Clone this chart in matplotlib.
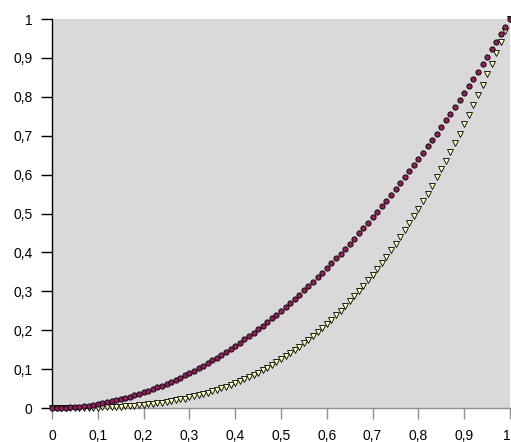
import matplotlib
matplotlib.use("Agg")
import matplotlib.pyplot as plt
from matplotlib.ticker import FuncFormatter
from matplotlib.transforms import ScaledTranslation

plt.rcParams['font.family'] = ['Liberation Sans', 'DejaVu Sans']

x = [0.00, 0.01, 0.02, 0.03, 0.04, 0.05, 0.06, 0.07, 0.08, 0.09,
     0.10, 0.11, 0.12, 0.13, 0.14, 0.15, 0.16, 0.17, 0.18, 0.19,
     0.20, 0.21, 0.22, 0.23, 0.24, 0.25, 0.26, 0.27, 0.28, 0.29,
     0.30, 0.31, 0.32, 0.33, 0.34, 0.35, 0.36, 0.37, 0.38, 0.39,
     0.40, 0.41, 0.42, 0.43, 0.44, 0.45, 0.46, 0.47, 0.48, 0.49,
     0.50, 0.51, 0.52, 0.53, 0.54, 0.55, 0.56, 0.57, 0.58, 0.59,
     0.60, 0.61, 0.62, 0.63, 0.64, 0.65, 0.66, 0.67, 0.68, 0.69,
     0.70, 0.71, 0.72, 0.73, 0.74, 0.75, 0.76, 0.77, 0.78, 0.79,
     0.80, 0.81, 0.82, 0.83, 0.84, 0.85, 0.86, 0.87, 0.88, 0.89,
     0.90, 0.91, 0.92, 0.93, 0.94, 0.95, 0.96, 0.97, 0.98, 0.99,
     1.00]

circles_y = [0.0000, 0.0001, 0.0004, 0.0009, 0.0016, 0.0025, 0.0036, 0.0049, 0.0064, 0.0081,
             0.0100, 0.0121, 0.0144, 0.0169, 0.0196, 0.0225, 0.0256, 0.0289, 0.0324, 0.0361,
             0.0400, 0.0441, 0.0484, 0.0529, 0.0576, 0.0625, 0.0676, 0.0729, 0.0784, 0.0841,
             0.0900, 0.0961, 0.1024, 0.1089, 0.1156, 0.1225, 0.1296, 0.1369, 0.1444, 0.1521,
             0.1600, 0.1681, 0.1764, 0.1849, 0.1936, 0.2025, 0.2116, 0.2209, 0.2304, 0.2401,
             0.2500, 0.2601, 0.2704, 0.2809, 0.2916, 0.3025, 0.3136, 0.3249, 0.3364, 0.3481,
             0.3600, 0.3721, 0.3844, 0.3969, 0.4096, 0.4225, 0.4356, 0.4489, 0.4624, 0.4761,
             0.4900, 0.5041, 0.5184, 0.5329, 0.5476, 0.5625, 0.5776, 0.5929, 0.6084, 0.6241,
             0.6400, 0.6561, 0.6724, 0.6889, 0.7056, 0.7225, 0.7396, 0.7569, 0.7744, 0.7921,
             0.8100, 0.8281, 0.8464, 0.8649, 0.8836, 0.9025, 0.9216, 0.9409, 0.9604, 0.9801,
             1.0000]

triangles_y = [0.0000, 0.0000, 0.0000, 0.0000, 0.0001, 0.0001, 0.0002, 0.0003, 0.0005, 0.0007,
               0.0010, 0.0013, 0.0017, 0.0022, 0.0027, 0.0034, 0.0041, 0.0049, 0.0058, 0.0069,
               0.0080, 0.0093, 0.0106, 0.0122, 0.0138, 0.0156, 0.0176, 0.0197, 0.0220, 0.0244,
               0.0270, 0.0298, 0.0328, 0.0359, 0.0393, 0.0429, 0.0467, 0.0507, 0.0549, 0.0593,
               0.0640, 0.0689, 0.0741, 0.0795, 0.0852, 0.0911, 0.0973, 0.1038, 0.1106, 0.1176,
               0.1250, 0.1327, 0.1406, 0.1489, 0.1575, 0.1664, 0.1756, 0.1852, 0.1951, 0.2054,
               0.2160, 0.2270, 0.2383, 0.2500, 0.2621, 0.2746, 0.2875, 0.3008, 0.3144, 0.3285,
               0.3430, 0.3579, 0.3732, 0.3890, 0.4052, 0.4219, 0.4390, 0.4565, 0.4746, 0.4930,
               0.5120, 0.5314, 0.5514, 0.5718, 0.5927, 0.6141, 0.6361, 0.6585, 0.6815, 0.7050,
               0.7290, 0.7536, 0.7787, 0.8044, 0.8306, 0.8574, 0.8847, 0.9127, 0.9412, 0.9703,
               1.0000]

x_ticks = [0, 0.1, 0.2, 0.3, 0.4, 0.5, 0.6, 0.7, 0.8, 0.9, 1]
y_ticks = [0, 0.1, 0.2, 0.3, 0.4, 0.5, 0.6, 0.7, 0.8, 0.9, 1]

fig = plt.figure(figsize=(5.11, 4.42), dpi=100)
ax = fig.add_axes([52 / 511, 34 / 442, 458 / 511, 389 / 442])
ax.set_facecolor('#d9d9d9')

ax.plot(x, triangles_y, linestyle='none', marker='v', markersize=4.8,
        markerfacecolor='#ffffc0', markeredgecolor='black', markeredgewidth=0.6,
        clip_on=False, zorder=3)
ax.plot(x, circles_y, linestyle='none', marker='o', markersize=3.8,
        markerfacecolor='#8c1f5c', markeredgecolor='black', markeredgewidth=0.6,
        clip_on=False, zorder=4)

ax.set_xlim(0, 1)
ax.set_ylim(0, 1)
ax.set_xticks(x_ticks)
ax.set_yticks(y_ticks)

fmt = FuncFormatter(lambda v, p: ('%g' % round(v, 2)).replace('.', ','))
ax.xaxis.set_major_formatter(fmt)
ax.yaxis.set_major_formatter(fmt)

ax.spines['top'].set_visible(False)
ax.spines['right'].set_visible(False)
ax.spines['left'].set_color('black')
ax.spines['left'].set_linewidth(1.0)
ax.spines['bottom'].set_color('#909090')
ax.spines['bottom'].set_linewidth(1.0)

ax.tick_params(axis='y', direction='out', length=8, width=1.0, color='black',
               pad=6, labelsize=10, labelcolor='black')
ax.tick_params(axis='x', direction='out', length=8, width=1.0, color='#909090',
               pad=7, labelsize=10, labelcolor='black')

fig.canvas.draw()
last = ax.get_xticklabels()[-1]
last.set_transform(last.get_transform() + ScaledTranslation(-3 / 100, 0, fig.dpi_scale_trans))

fig.savefig('out.png', dpi=100)
